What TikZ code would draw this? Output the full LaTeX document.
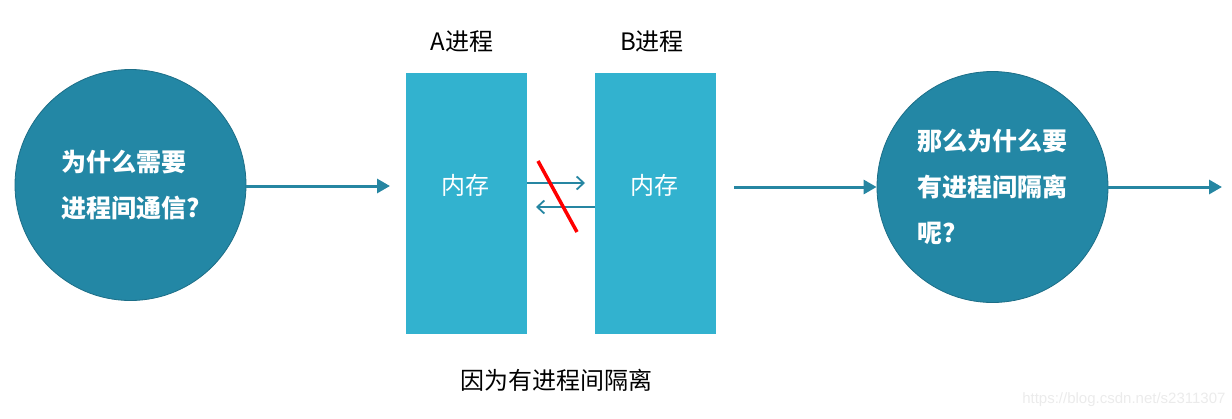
\documentclass[tikz,border=0pt]{standalone}
\usepackage{fontspec}
\setmainfont{Noto Sans CJK SC}
\newfontfamily\wmfont{Liberation Sans}
\usetikzlibrary{arrows.meta}
\definecolor{circfill}{RGB}{35,135,165}
\definecolor{circline}{RGB}{28,110,135}
\definecolor{rectfill}{RGB}{50,178,207}
\definecolor{arrcol}{RGB}{38,134,162}
\tikzset{
  bigcirc/.style={circle, fill=circfill, draw=circline, line width=0.8pt, minimum size=231pt, inner sep=0pt, text=white, align=left, font=\fontsize{25}{46}\selectfont\bfseries},
  membox/.style={rectangle, fill=rectfill, minimum width=121pt, minimum height=261pt, inner sep=0pt},
  memtext/.style={text=white, font=\fontsize{24}{28}\selectfont},
  label24/.style={font=\fontsize{24}{28}\selectfont, text=black},
  bigarrow/.style={draw=arrcol, line width=3pt, -{Triangle[length=13pt,width=14pt]}},
  smallarrow/.style={draw=arrcol, line width=1.8pt, -{Straight Barb[length=7pt,width=13pt]}},
}
\begin{document}
\begin{tikzpicture}[x=1pt,y=-1pt]
\useasboundingbox (0,0) rectangle (1232,418);
% circles
\node[bigcirc] (c1) at (130.5,185) {为什么需要\\进程间通信?};
\node[bigcirc] (c2) at (992.5,187) {那么为什么要\\有进程间隔离\\呢?};
% memory boxes
\node[membox] (A) at (466.5,203.5) {};
\node[membox] (B) at (655.5,203.5) {};
\node[memtext] (memA) at (465,185) {内存};
\node[memtext] (memB) at (654,185) {内存};
\node[label24] (labA) at (462,42) {A进程};
\node[label24] (labB) at (652,42) {B进程};
\node[font=\fontsize{24}{28}\selectfont] (why) at (556,380) {因为有进程间隔离};
\node[font=\wmfont\fontsize{15}{18}\selectfont, text=black!8, anchor=east] (wm) at (1229,400) {https://blog.csdn.net/s2311307};
% coordinates
\coordinate (a1end) at (390,186);
\coordinate (a2start) at (734,187);
\coordinate (a3end) at (1222,187);
\coordinate (sa1) at (527,183);
\coordinate (sa1end) at (585,183);
\coordinate (sa2) at (595,207);
\coordinate (sa2end) at (536,207);
\coordinate (r1) at (538,161);
\coordinate (r2) at (577,232);
% arrows
\draw[bigarrow] (c1.east |- a1end) -- (a1end);
\draw[bigarrow] (a2start) -- (c2.west);
\draw[bigarrow] (c2.east) -- (a3end);
\draw[smallarrow] (sa1) -- (sa1end);
\draw[smallarrow] (sa2) -- (sa2end);
\draw[red, line width=3.5pt] (r1) -- (r2);
\end{tikzpicture}
\end{document}
